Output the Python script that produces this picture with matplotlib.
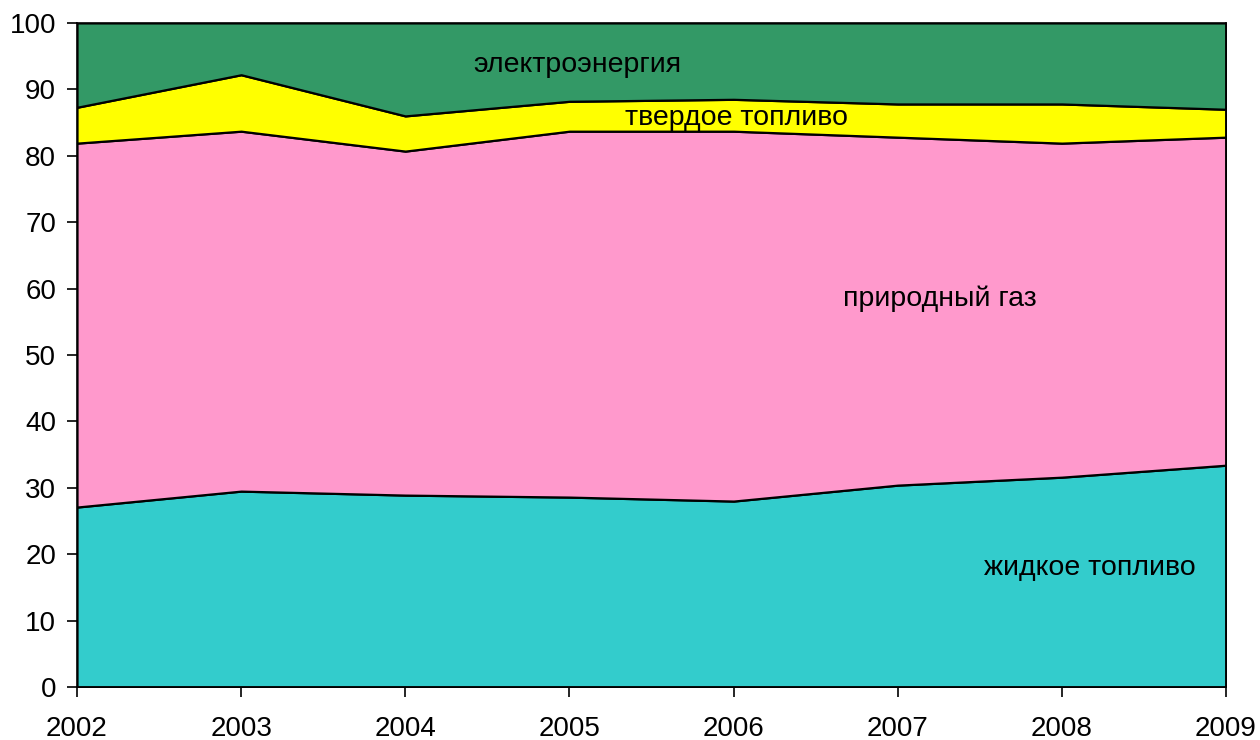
import matplotlib.pyplot as plt
import numpy as np

plt.rcParams['font.family'] = ['Liberation Sans', 'DejaVu Sans']

years = [2002, 2003, 2004, 2005, 2006, 2007, 2008, 2009]

# shares, % (stacked bottom to top)
liquid = [27.1, 29.5, 28.9, 28.6, 28.0, 30.4, 31.6, 33.4]
gas = [54.8, 54.2, 51.8, 55.1, 55.7, 52.4, 50.3, 49.4]
solid = [5.4, 8.5, 5.3, 4.5, 4.8, 5.0, 5.9, 4.2]
electricity = [12.7, 7.8, 14.0, 11.8, 11.5, 12.2, 12.2, 13.0]

labels = ['жидкое топливо', 'природный газ', 'твердое топливо', 'электроэнергия']
colors = ['#33CCCC', '#FF99CC', '#FFFF00', '#339966']

fig = plt.figure(figsize=(12.6, 7.4), dpi=100)
ax = fig.add_axes([0.0611, 0.0716, 0.9119, 0.8974])

ax.stackplot(years, liquid, gas, solid, electricity, colors=colors,
             edgecolor='black', linewidth=1.6)

ax.set_xlim(2002, 2009)
ax.set_ylim(0, 100)
ax.set_yticks(np.arange(0, 101, 10))
ax.set_xticks(years)
ax.tick_params(axis='both', labelsize=20, direction='out', length=7, width=1.2)
ax.tick_params(axis='x', pad=14)
ax.tick_params(axis='y', pad=8)
for s in ax.spines.values():
    s.set_linewidth(1.2)

# category labels inside the areas
fs = 20.5
ax.text(2005.05, 93.7, labels[3], fontsize=fs, ha='center', va='center')
ax.text(2006.02, 85.7, labels[2], fontsize=fs, ha='center', va='center')
ax.text(2007.26, 58.4, labels[1], fontsize=fs, ha='center', va='center')
ax.text(2008.17, 17.9, labels[0], fontsize=fs, ha='center', va='center')

fig.savefig('out.png', dpi=100)
